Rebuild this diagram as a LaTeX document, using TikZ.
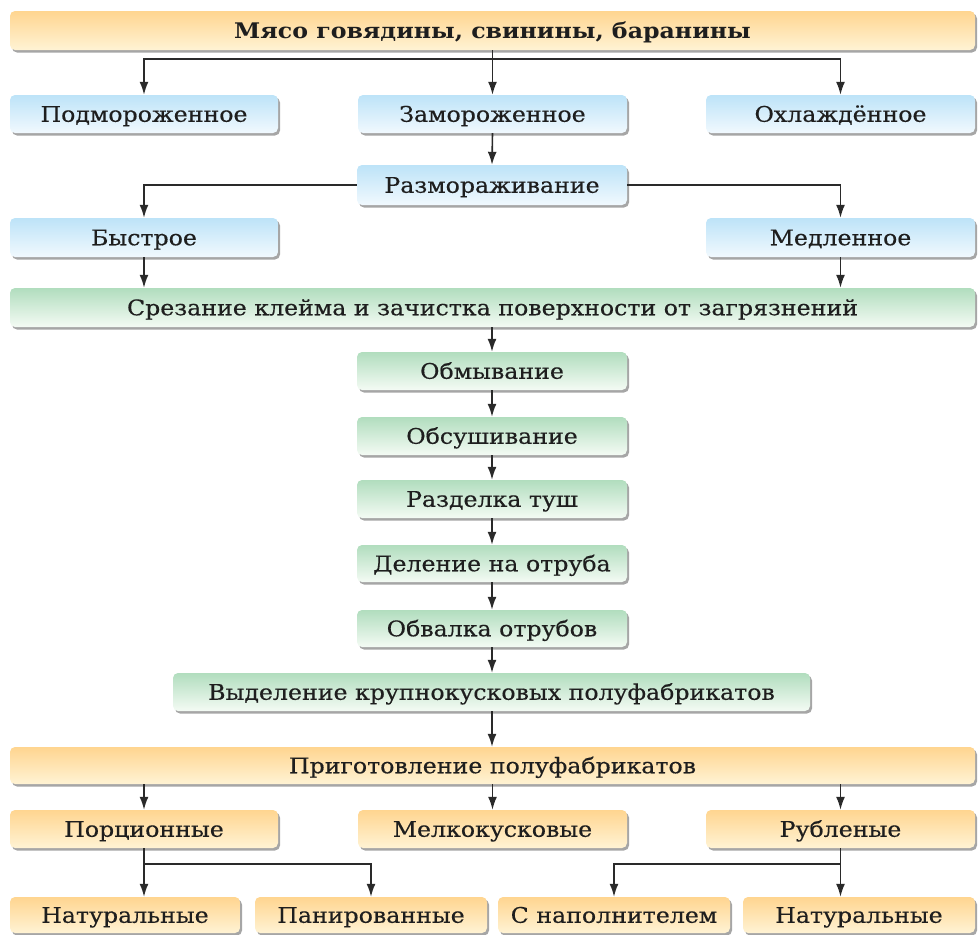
\documentclass[tikz,border=0pt]{standalone}
\usepackage{fontspec}
\setmainfont{DejaVu Serif}[FakeStretch=1.1, FakeBold=0.4, BoldFeatures={FakeBold=0}]
\usetikzlibrary{arrows.meta,shadows}
\definecolor{ortop}{HTML}{FFD590}
\definecolor{orbot}{HTML}{FFF3D4}
\definecolor{bltop}{HTML}{BDE3F8}
\definecolor{blbot}{HTML}{F1F9FE}
\definecolor{grtop}{HTML}{B1DDBE}
\definecolor{grbot}{HTML}{F4FBF4}
\definecolor{txt}{HTML}{1E1E1E}
\definecolor{ln}{HTML}{2A2A2A}
\tikzset{
  box/.style={rounded corners=5pt, inner sep=0pt, minimum height=38pt,
    text height=15.5pt, text depth=0pt,
    text=txt, font=\fontsize{21.5}{24}\selectfont,
    general shadow={shadow xshift=2pt, shadow yshift=-2.5pt, fill=black!35}},
  obox/.style={box, top color=ortop, bottom color=orbot},
  bbox/.style={box, top color=bltop, bottom color=blbot},
  gbox/.style={box, top color=grtop, bottom color=grbot},
  arr/.style={draw=ln, line width=1.6pt, -{Latex[length=13pt,width=9pt]}},
  ln/.style={draw=ln, line width=1.6pt}
}
\begin{document}
\begin{tikzpicture}[x=1pt,y=-1pt]
\useasboundingbox (0,0) rectangle (978,935);
% nodes
\node[obox, minimum width=965pt, minimum height=39pt, font=\bfseries\fontsize{21.5}{24}\selectfont] (top) at (492.5,30.5) {Мясо говядины, свинины, баранины};
\node[bbox, minimum width=268pt] (podm) at (144,114) {Подмороженное};
\node[bbox, minimum width=269pt] (zam) at (492.5,114) {Замороженное};
\node[bbox, minimum width=269pt] (okh) at (840.5,114) {Охлаждённое};
\node[bbox, minimum width=270pt, minimum height=40pt] (razm) at (492,185) {Размораживание};
\node[bbox, minimum width=268pt, minimum height=39pt] (byst) at (144,237.5) {Быстрое};
\node[bbox, minimum width=269pt, minimum height=39pt] (medl) at (840.5,237.5) {Медленное};
\node[gbox, minimum width=965pt, minimum height=39pt] (srez) at (492.5,307.5) {Срезание клейма и зачистка поверхности от загрязнений};
\node[gbox, minimum width=270pt] (obmy) at (492,371) {Обмывание};
\node[gbox, minimum width=270pt] (obsu) at (492,436) {Обсушивание};
\node[gbox, minimum width=270pt] (razd) at (492,499) {Разделка туш};
\node[gbox, minimum width=270pt, minimum height=37pt] (dele) at (492,563.5) {Деление на отруба};
\node[gbox, minimum width=270pt, minimum height=37pt] (obva) at (492,628.5) {Обвалка отрубов};
\node[gbox, minimum width=637pt] (vyde) at (491.5,692) {Выделение крупнокусковых полуфабрикатов};
\node[obox, minimum width=965pt, minimum height=37pt] (prig) at (492.5,765.5) {Приготовление полуфабрикатов};
\node[obox, minimum width=268pt] (porc) at (144,829) {Порционные};
\node[obox, minimum width=269pt] (melk) at (492.5,829) {Мелкокусковые};
\node[obox, minimum width=269pt] (rubl) at (840.5,829) {Рубленые};
\node[obox, minimum width=230pt, minimum height=36pt] (nat1) at (125,915) {Натуральные};
\node[obox, minimum width=232pt, minimum height=36pt] (pani) at (371,915) {Панированные};
\node[obox, minimum width=232pt, minimum height=36pt] (snap) at (614,915) {С наполнителем};
\node[obox, minimum width=232pt, minimum height=36pt] (nat2) at (859,915) {Натуральные};
% connectors
\coordinate (j1) at (492.5,59);
\draw[ln] (top.south) -- (j1);
\draw[arr] (j1) -| (podm.north);
\draw[arr] (j1) -- (zam.north);
\draw[arr] (j1) -| (okh.north);
\draw[arr] (zam.south) -- (razm.north);
\draw[arr] (razm.west) -| (byst.north);
\draw[arr] (razm.east) -| (medl.north);
\draw[arr] (byst.south) -- (byst.south |- srez.north);
\draw[arr] (medl.south) -- (medl.south |- srez.north);
\draw[arr] (srez.south -| obmy.north) -- (obmy.north);
\draw[arr] (obmy.south) -- (obsu.north);
\draw[arr] (obsu.south) -- (razd.north);
\draw[arr] (razd.south) -- (dele.north);
\draw[arr] (dele.south) -- (obva.north);
\draw[arr] (obva.south) -- (obva.south |- vyde.north);
\draw[arr] (obva.south |- vyde.south) -- (obva.south |- prig.north);
\draw[arr] (porc.north |- prig.south) -- (porc.north);
\draw[arr] (melk.north |- prig.south) -- (melk.north);
\draw[arr] (rubl.north |- prig.south) -- (rubl.north);
\draw[arr] (porc.south) -- (porc.south |- nat1.north);
\draw[arr] (porc.south) -- ++(0,16) -| (pani.north);
\draw[arr] (rubl.south) -- (rubl.south |- nat2.north);
\draw[arr] (rubl.south) -- ++(0,16) -| (snap.north);
\end{tikzpicture}
\end{document}
